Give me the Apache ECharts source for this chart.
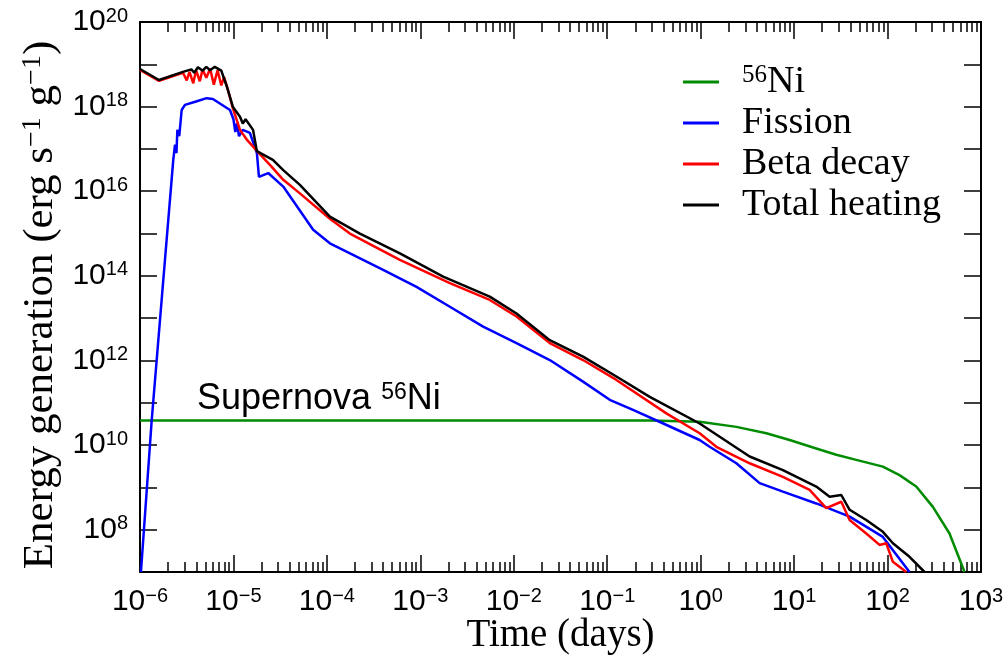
<!DOCTYPE html>
<html><head><meta charset="utf-8">
<script src="https://cdn.jsdelivr.net/npm/echarts@6/dist/echarts.min.js"></script>
<style>html,body{margin:0;padding:0;background:#fff}#c{width:1007px;height:655px}</style>
</head><body><div id="c"></div>
<script>
// ---- Data (log10 of time in days, log10 of energy generation) ----
const seriesNames = ['56Ni', 'Fission', 'Beta decay', 'Total heating'];

const niLogT = [-6, -1.615, -0.545, -0.011, 0.382, 0.703, 0.952, 1.237, 1.451, 1.665, 1.95, 2.128, 2.307, 2.485, 2.663, 2.824];
const niLogE = [10.58, 10.58, 10.58, 10.55, 10.43, 10.28, 10.12, 9.92, 9.77, 9.65, 9.49, 9.29, 9.02, 8.54, 7.91, 7.0];

const fissionLogT = [-5.99, -5.875, -5.765, -5.644, -5.625, -5.61, -5.6, -5.58, -5.554, -5.519, -5.4, -5.287, -5.22, -5.037, -5.0, -4.98, -4.963, -4.94, -4.9, -4.824, -4.749, -4.727, -4.628, -4.467, -4.147, -3.968, -3.398, -3.041, -2.684, -2.328, -1.971, -1.615, -1.259, -0.973, -0.724, -0.4, -0.011, 0.096, 0.382, 0.631, 0.88, 1.237, 1.594, 1.95, 2.235];
const fissionLogE = [7.0, 10.58, 13.52, 16.74, 17.1, 16.9, 17.45, 17.3, 17.92, 18.04, 18.12, 18.2, 18.18, 17.92, 17.7, 17.4, 17.6, 17.3, 17.45, 17.38, 16.9, 16.34, 16.43, 16.11, 15.09, 14.77, 14.14, 13.74, 13.27, 12.8, 12.41, 12.01, 11.5, 11.07, 10.83, 10.51, 10.12, 9.96, 9.57, 9.1, 8.9, 8.62, 8.31, 7.83, 7.0];

const betaLogT = [-6, -5.797, -5.54, -5.5, -5.47, -5.43, -5.4, -5.36, -5.33, -5.29, -5.25, -5.21, -5.17, -5.13, -5.1, -5.06, -5.005, -4.93, -4.85, -4.727, -4.6, -4.467, -4.289, -3.968, -3.754, -3.219, -2.684, -2.257, -1.971, -1.615, -1.259, -0.902, -0.367, -0.011, 0.168, 0.524, 0.88, 1.166, 1.344, 1.505, 1.594, 1.772, 1.914, 1.986, 2.057, 2.2];
const betaLogE = [18.87, 18.61, 18.8, 18.62, 18.82, 18.55, 18.86, 18.6, 18.88, 18.68, 18.9, 18.52, 18.86, 18.5, 18.7, 18.4, 17.95, 17.45, 17.2, 16.9, 16.6, 16.27, 15.95, 15.35, 15.0, 14.38, 13.83, 13.43, 13.04, 12.41, 12.01, 11.54, 10.75, 10.28, 9.96, 9.57, 9.25, 8.94, 8.51, 8.66, 8.23, 7.91, 7.64, 7.68, 7.24, 7.0];

const totalLogT = [-6, -5.797, -5.54, -5.45, -5.42, -5.38, -5.33, -5.29, -5.25, -5.2, -5.13, -5.07, -5.005, -4.93, -4.9, -4.87, -4.79, -4.75, -4.578, -4.467, -4.289, -3.968, -3.647, -3.219, -2.756, -2.257, -1.971, -1.615, -1.259, -0.902, -0.545, -0.011, 0.524, 0.88, 1.237, 1.38, 1.505, 1.594, 1.772, 1.95, 2.057, 2.235, 2.396];
const totalLogE = [18.89, 18.63, 18.82, 18.88, 18.8, 18.93, 18.85, 18.94, 18.86, 18.94, 18.85, 18.47, 17.99, 17.76, 17.6, 17.7, 17.45, 16.95, 16.74, 16.5, 16.15, 15.4, 15.0, 14.53, 13.98, 13.51, 13.11, 12.48, 12.09, 11.62, 11.14, 10.51, 9.73, 9.41, 9.02, 8.78, 8.82, 8.47, 8.23, 7.95, 7.68, 7.36, 7.0];

// ---- Axis ticks ----
const xMajorTicks = [1e-6, 1e-5, 1e-4, 1e-3, 1e-2, 1e-1, 1e0, 1e1, 1e2, 1e3];
const xMinorMultipliers = [2, 3, 4, 5, 6, 7, 8, 9];
const yTicks = [1e7, 1e8, 1e9, 1e10, 1e11, 1e12, 1e13, 1e14, 1e15, 1e16, 1e17, 1e18, 1e19, 1e20];
const yLabelTicks = [1e8, 1e10, 1e12, 1e14, 1e16, 1e18, 1e20];

const xMinorTicks = [];
xMajorTicks.slice(0, -1).forEach(d => xMinorMultipliers.forEach(m => xMinorTicks.push(m * d)));
const xAllTicks = xMajorTicks.concat(xMinorTicks).sort((a, b) => a - b);

function toPairs(lt, le) { return lt.map((t, i) => [Math.pow(10, t), Math.pow(10, le[i])]); }

const SANS = 'Liberation Sans';
const SERIF = 'Liberation Serif';
const Y_MIN = 1e7, Y_MAX = 1e20;
function powLabel(v) {
  const e = Math.round(Math.log10(v));
  return '{b|10}{s|' + (e < 0 ? '\u2212' + (-e) : e) + '}';
}
const labelRich = {
  b: { fontFamily: SANS, fontSize: 30, lineHeight: 32, color: '#000' },
  s: { fontFamily: SANS, fontSize: 20, lineHeight: 14, verticalAlign: 'top', color: '#000' }
};

function xAxisDef(position, ticks, len, showLine, showLabel, extra) {
  return Object.assign({
    type: 'log', min: 1e-6, max: 1e3, position: position,
    axisLine: { show: showLine, lineStyle: { color: '#000', width: 2 } },
    axisTick: { show: true, interval: 0, inside: true, length: len, customValues: ticks, lineStyle: { color: '#000', width: 1.5 } },
    axisLabel: showLabel ? { show: true, customValues: xMajorTicks, formatter: powLabel, rich: labelRich, margin: 14 } : { show: false },
    splitLine: { show: false }
  }, extra || {});
}
function yAxisDef(position, showLabel, extra) {
  return Object.assign({
    type: 'log', min: Y_MIN, max: Y_MAX, position: position,
    axisLine: { show: true, lineStyle: { color: '#000', width: 2 } },
    axisTick: { show: true, interval: 0, inside: true, length: 17, customValues: yTicks, lineStyle: { color: '#000', width: 1.5 } },
    axisLabel: showLabel ? { show: true, customValues: yLabelTicks, formatter: powLabel, rich: labelRich, margin: 12 } : { show: false },
    splitLine: { show: false }
  }, extra || {});
}

const colors = ['#008c00', '#0000ff', '#ff0000', '#000000'];
const datasets = [toPairs(niLogT, niLogE), toPairs(fissionLogT, fissionLogE), toPairs(betaLogT, betaLogE), toPairs(totalLogT, totalLogE)];

const chart = echarts.init(document.getElementById('c'));
chart.setOption({
  animation: false,
  backgroundColor: '#fff',
  grid: { left: 140, right: 26, top: 22, bottom: 83, outerBoundsMode: 'none' },
  xAxis: [
    // main bottom axis: labels at decades, short ticks at every decade and 2..9 sub-decade
    xAxisDef('bottom', xAllTicks, 10, true, true, {
      name: 'Time (days)', nameLocation: 'middle', nameGap: 44, nameMoveOverlap: false,
      nameTextStyle: { fontFamily: SERIF, fontSize: 39, color: '#000', verticalAlign: 'top' }
    }),
    // main top axis: short ticks everywhere
    xAxisDef('top', xAllTicks, 10, true, false),
    // long decade ticks, bottom and top
    xAxisDef('bottom', xMajorTicks, 17, false, false),
    xAxisDef('top', xMajorTicks, 17, false, false)
  ],
  yAxis: [
    yAxisDef('left', true, {
      name: 'Energy generation (erg s{s|\u22121} g{s|\u22121})', nameLocation: 'middle', nameGap: 78, nameRotate: 90, nameMoveOverlap: false,
      nameTextStyle: {
        fontFamily: SERIF, fontSize: 43, color: '#000', padding: [0, 16, 0, 0],
        rich: { s: { fontFamily: SERIF, fontSize: 28, lineHeight: 20, verticalAlign: 'top', color: '#000' } }
      }
    }),
    yAxisDef('right', false)
  ],
  legend: {
    orient: 'vertical', left: 683, top: 63, padding: 0, icon: 'rect', itemWidth: 36, itemHeight: 3, itemGap: 3,
    data: seriesNames,
    formatter: name => name === '56Ni' ? '{sup|56}{n|Ni}' : name,
    textStyle: {
      fontFamily: SERIF, fontSize: 38, color: '#000', padding: [0, 0, 0, 18],
      rich: {
        sup: { fontFamily: SERIF, fontSize: 25, lineHeight: 20, verticalAlign: 'top', color: '#000' },
        n: { fontFamily: SERIF, fontSize: 38, color: '#000' }
      }
    }
  },
  graphic: [{
    type: 'text', x: 197, y: 399, z: 10,
    style: {
      text: '{a|Supernova }{s|56}{a|Ni}', verticalAlign: 'middle',
      rich: {
        a: { fontFamily: SANS, fontSize: 36, lineHeight: 36, fill: '#000' },
        s: { fontFamily: SANS, fontSize: 23, lineHeight: 16, verticalAlign: 'top', fill: '#000' }
      }
    }
  }],
  series: seriesNames.map((n, i) => ({
    name: n, type: 'line', xAxisIndex: 0, yAxisIndex: 0, data: datasets[i],
    showSymbol: false, symbol: 'none', clip: true, z: 3 + i,
    lineStyle: { color: colors[i], width: 2.5 }, itemStyle: { color: colors[i] }
  }))
});
</script></body></html>
